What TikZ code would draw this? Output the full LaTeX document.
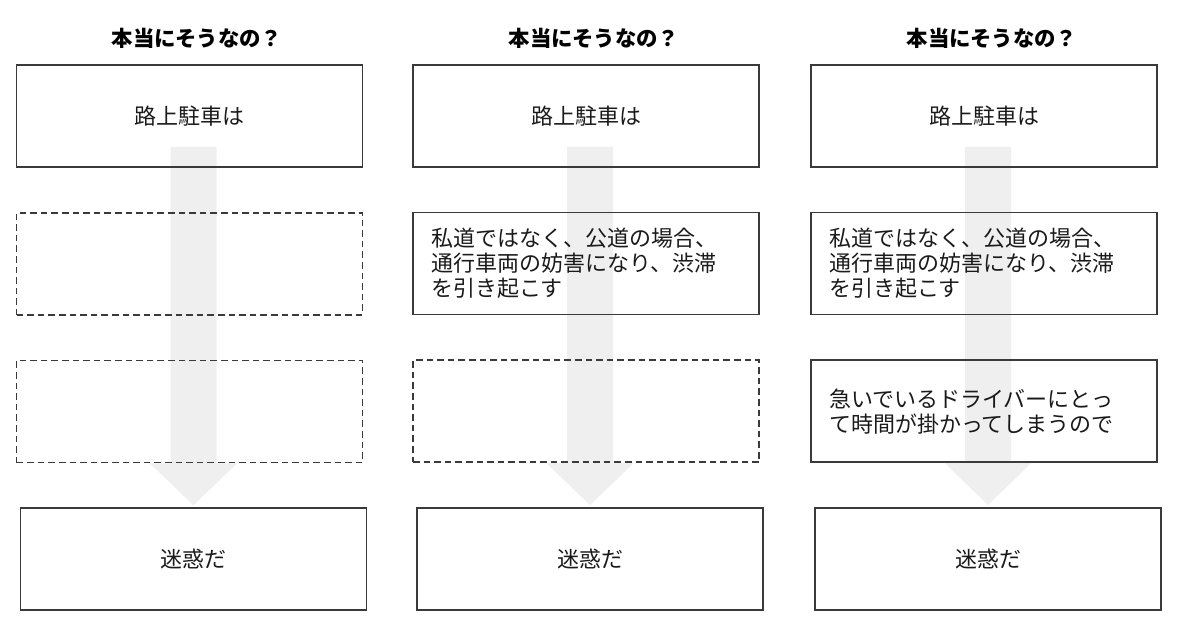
\documentclass[tikz,border=0pt]{standalone}
\usepackage{fontspec}
\newfontfamily\jpfont{Noto Sans CJK JP}
\usetikzlibrary{positioning, calc, backgrounds}
\definecolor{BoxLine}{HTML}{3A3A3A}
\definecolor{FlowFill}{HTML}{EFEFEF}
\definecolor{TextInk}{HTML}{1A1A1A}

\begin{document}
\begin{tikzpicture}[
    x=0.5pt, y=-0.5pt,
    box/.style={
        rectangle, draw=BoxLine, line width=0.8pt,
        minimum width=173pt, minimum height=51pt, inner sep=0pt,
        font=\jpfont\fontsize{11pt}{12.5pt}\selectfont, text=TextInk
    },
    blank/.style={box, line width=0.9pt, dash pattern=on 3.3pt off 2pt},
    note/.style={box, align=left, text width=155pt},
    heading/.style={font=\jpfont\bfseries\fontsize{10.7pt}{13pt}\selectfont,
                    text=black},
    flow/.style={fill=FlowFill},
    node distance=22pt
]
\useasboundingbox (0,0) rectangle (1200,642);

% ===================================================================
% COLUMN 1
% ===================================================================
\node[heading] (t1) at (197,38) {本当にそうなの？};
\node[box] (b11) at (189.5,116) {路上駐車は};
\node[blank, below=of b11] (b12) {};
\node[blank, below=of b12] (b13) {};
\node[box, below=of b13, xshift=2pt] (b14) {迷惑だ};

% ===================================================================
% COLUMN 2
% ===================================================================
\node[heading] (t2) at (594,38) {本当にそうなの？};
\node[box] (b21) at (586,116) {路上駐車は};
\node[note, below=of b21] (b22)
    {私道ではなく、公道の場合、\\
     通行車両の妨害になり、渋滞\\
     を引き起こす\\[-5pt]};
\node[blank, below=of b22] (b23) {};
\node[box, below=of b23, xshift=2pt] (b24) {迷惑だ};

% ===================================================================
% COLUMN 3
% ===================================================================
\node[heading] (t3) at (992,38) {本当にそうなの？};
\node[box] (b31) at (984,116) {路上駐車は};
\node[note, below=of b31] (b32)
    {私道ではなく、公道の場合、\\
     通行車両の妨害になり、渋滞\\
     を引き起こす\\[-5pt]};
\node[note, below=of b32] (b33)
    {急いでいるドライバーにとっ\\
     て時間が掛かってしまうので\\[-5pt]};
\node[box, below=of b33, xshift=2pt] (b34) {迷惑だ};

% ===================================================================
% FLOW ARROWS (behind the boxes)
% ===================================================================
\begin{scope}[on background layer]
\foreach \c in {1,2,3}
    \fill[flow] ($(b\c4.north |- b\c1.south)+(-23,-21)$)
        -- ($(b\c4.north |- b\c3.south)+(-23,0)$) -- ++(-20.5,0)
        -- ($(b\c4.north)+(0,-2)$)
        -- ($(b\c4.north |- b\c3.south)+(43.5,0)$) -- ++(-20.5,0)
        -- ($(b\c4.north |- b\c1.south)+(23,-21)$) -- cycle;
\end{scope}

\end{tikzpicture}
\end{document}
